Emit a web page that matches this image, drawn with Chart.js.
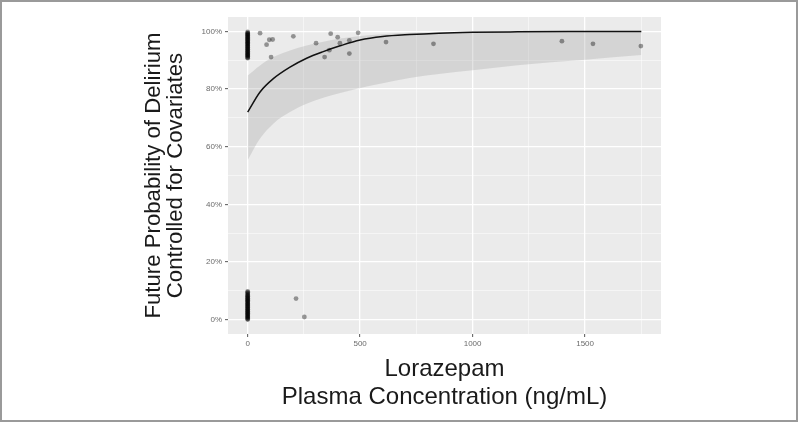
<!DOCTYPE html>
<html><head><meta charset="utf-8">
<script src="https://cdn.jsdelivr.net/npm/chart.js@4.4.1/dist/chart.umd.min.js"></script>
<style>
html,body{margin:0;padding:0;background:#fff;}
#wrap{position:relative;width:800px;height:425px;overflow:hidden;}
#frame{position:absolute;left:0;top:0;width:794px;height:418px;border:2px solid #9a9a9a;pointer-events:none;}
canvas{position:absolute;left:0;top:0;}
</style></head><body>
<div id="wrap"><canvas id="c" width="800" height="425"></canvas><div id="frame"></div></div>
<script>
// ---- Data (x: lorazepam ng/mL, y: probability in %) ----
// Patients with no lorazepam (x = 0): dense clusters near 100% and near 0%
const obsY0Top = [90.7,90.9,91.1,91.4,91.6,91.8,92.0,92.2,92.4,92.7,92.9,93.1,93.3,93.6,93.8,94.0,94.2,94.5,94.7,94.9,95.1,95.4,95.6,95.8,96.0,96.2,96.4,96.7,96.9,97.1,97.3,97.6,97.8,98.0,98.2,98.5,98.7,98.9,99.1,99.3,99.5,99.8];
const obsY0Bot = [0.0,0.2,0.4,0.7,0.9,1.1,1.3,1.6,1.8,2.0,2.2,2.5,2.7,2.9,3.1,3.4,3.6,3.8,4.0,4.3,4.5,4.7,4.9,5.2,5.4,5.6,5.8,6.1,6.3,6.5,6.7,7.0,7.2,7.4,7.6,7.9,8.1,8.4,8.6,8.9,9.2,9.5,9.8];
// Patients with measured lorazepam
const obsX = [55,84,96,111,104,203,304,342,363,369,400,410,452,452,491,615,826,1397,1535,1748,215,252];
const obsY = [99.4,95.4,97.1,97.2,91.1,98.3,95.9,91.1,93.5,99.2,98.0,95.9,96.9,92.3,99.5,96.3,95.7,96.6,95.7,94.9,7.3,0.9];

// Fitted probability and confidence band
const fitX  = [0,55,114,188,262,336,411,500,600,720,850,1000,1200,1500,1750];
const fitY  = [72.0,79.0,83.6,87.6,90.7,93.0,95.0,97.0,98.2,98.9,99.4,99.7,99.85,99.95,100.0];
const bandUpper = [84.7,88.2,91.1,93.4,95.1,96.4,97.5,98.4,99.0,99.5,99.7,99.85,99.93,99.97,100.0];
const bandLower = [55.3,62.8,68.0,72.0,74.9,77.0,78.6,80.4,82.0,83.8,85.2,86.5,88.3,90.2,91.8];

const xTickValues = [0,250,500,750,1000,1250,1500,1750];
const xTickLabels = ['0','','500','','1000','','1500',''];
const yTickValues = [0,10,20,30,40,50,60,70,80,90,100];
const yTickLabels = ['0%','','20%','','40%','','60%','','80%','','100%'];

const xTitle = ['Lorazepam','Plasma Concentration (ng/mL)'];
const yTitle = ['Future Probability of Delirium','Controlled for Covariates'];

// ---- Build ----
const zip = (xs, ys) => xs.map((x, i) => ({x: x, y: ys[i]}));
const atZero = ys => ys.map(y => ({x: 0, y: y}));
const points = atZero(obsY0Top).concat(atZero(obsY0Bot), zip(obsX, obsY));

const FONT = '"Liberation Sans", Arial, Helvetica, sans-serif';
const isMajorX = v => xTickLabels[xTickValues.indexOf(v)] !== '';
const isMajorY = v => yTickLabels[yTickValues.indexOf(v)] !== '';

const panelBg = {
  id: 'panelBg',
  beforeDraw(chart) {
    const a = chart.chartArea, ctx = chart.ctx;
    ctx.save();
    ctx.fillStyle = '#EBEBEB';
    ctx.fillRect(a.left, a.top, a.right - a.left, a.bottom - a.top);
    ctx.restore();
  }
};

new Chart(document.getElementById('c'), {
  type: 'scatter',
  data: {
    datasets: [
      {
        label: 'observed',
        data: points,
        backgroundColor: 'rgba(0,0,0,0.38)',
        borderWidth: 0,
        pointRadius: 2.4,
        order: 0
      },
      {
        type: 'line',
        label: 'fit',
        data: zip(fitX, fitY),
        borderColor: '#111',
        borderWidth: 1.5,
        pointRadius: 0,
        showLine: true,
        fill: false,
        cubicInterpolationMode: 'monotone',
        order: 1
      },
      {
        type: 'line',
        label: 'upper',
        data: zip(fitX, bandUpper),
        borderWidth: 0,
        borderColor: 'rgba(0,0,0,0)',
        backgroundColor: 'rgba(153,153,153,0.27)',
        pointRadius: 0,
        showLine: true,
        fill: '+1',
        cubicInterpolationMode: 'monotone',
        order: 2
      },
      {
        type: 'line',
        label: 'lower',
        data: zip(fitX, bandLower),
        borderWidth: 0,
        borderColor: 'rgba(0,0,0,0)',
        pointRadius: 0,
        showLine: true,
        fill: false,
        cubicInterpolationMode: 'monotone',
        order: 3
      }
    ]
  },
  options: {
    responsive: false,
    animation: false,
    devicePixelRatio: 1,
    layout: { padding: { left: 0, top: 17, right: 139, bottom: 0 } },
    plugins: { legend: { display: false }, tooltip: { enabled: false } },
    scales: {
      x: {
        type: 'linear',
        min: -87.5,
        max: 1837.5,
        afterBuildTicks: s => { s.ticks = xTickValues.map(v => ({value: v})); },
        afterFit: s => { s.height = 91; },
        border: { display: false },
        grid: {
          drawTicks: true,
          tickLength: 3,
          color: c => isMajorX(c.tick.value) ? '#FFFFFF' : 'rgba(255,255,255,0.85)',
          lineWidth: c => isMajorX(c.tick.value) ? 1.3 : 0.6,
          tickColor: c => isMajorX(c.tick.value) ? '#555' : 'rgba(0,0,0,0)',
          tickWidth: 1
        },
        ticks: {
          autoSkip: false,
          maxRotation: 0,
          padding: 2,
          color: '#6b6b6b',
          font: { family: FONT, size: 8 },
          callback: v => xTickLabels[xTickValues.indexOf(v)]
        },
        title: {
          display: true,
          text: xTitle,
          color: '#1a1a1a',
          font: { family: FONT, size: 24, lineHeight: 1.17 },
          padding: { top: 0, bottom: 14 }
        }
      },
      y: {
        type: 'linear',
        min: -5,
        max: 105,
        afterBuildTicks: s => { s.ticks = yTickValues.map(v => ({value: v})); },
        afterFit: s => { s.width = 228; },
        border: { display: false },
        grid: {
          drawTicks: true,
          tickLength: 3,
          color: c => isMajorY(c.tick.value) ? '#FFFFFF' : 'rgba(255,255,255,0.85)',
          lineWidth: c => isMajorY(c.tick.value) ? 1.3 : 0.6,
          tickColor: c => isMajorY(c.tick.value) ? '#555' : 'rgba(0,0,0,0)',
          tickWidth: 1
        },
        ticks: {
          autoSkip: false,
          padding: 3,
          color: '#6b6b6b',
          font: { family: FONT, size: 8 },
          callback: v => yTickLabels[yTickValues.indexOf(v)]
        },
        title: {
          display: true,
          text: yTitle,
          color: '#1a1a1a',
          font: { family: FONT, size: 22.2, lineHeight: 1.0 },
          padding: { top: 143, bottom: 0 }
        }
      }
    }
  },
  plugins: [panelBg]
});
</script>
</body></html>
